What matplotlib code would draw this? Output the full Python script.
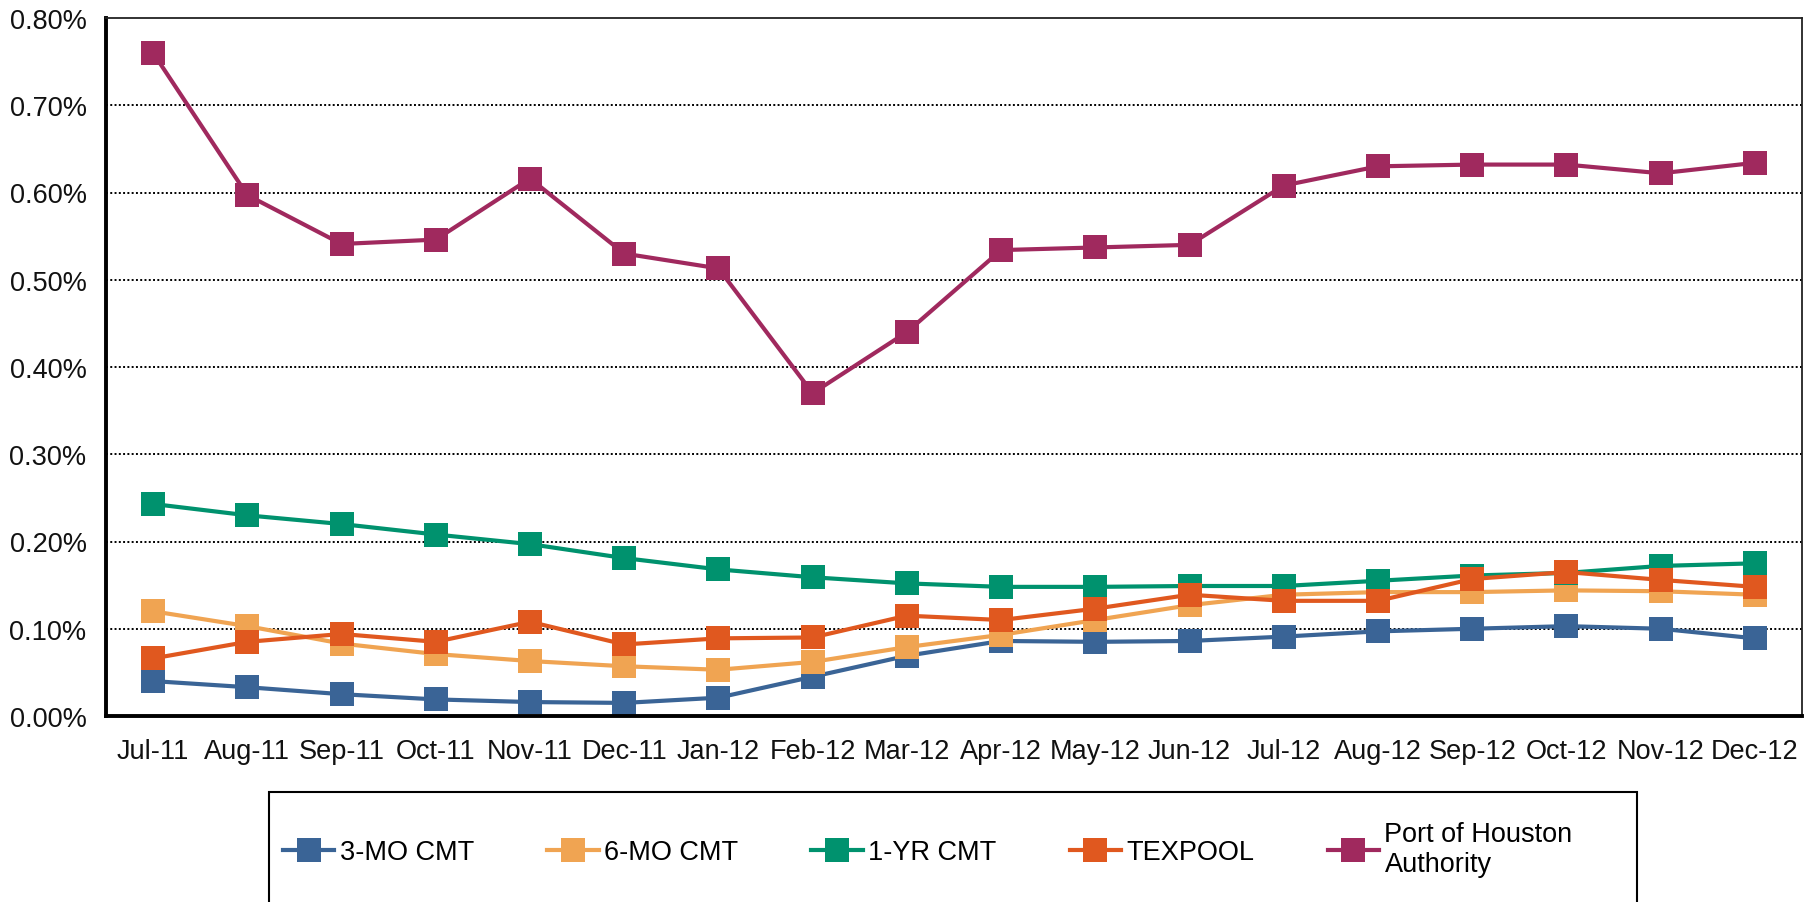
import numpy as np
import matplotlib
matplotlib.use("Agg")
import matplotlib.pyplot as plt
from matplotlib.patches import Rectangle
from matplotlib.ticker import FuncFormatter, MultipleLocator

plt.rcParams['font.family'] = ['Liberation Sans', 'DejaVu Sans']

# months on the x axis
months = ['Jul-11', 'Aug-11', 'Sep-11', 'Oct-11', 'Nov-11', 'Dec-11',
          'Jan-12', 'Feb-12', 'Mar-12', 'Apr-12', 'May-12', 'Jun-12',
          'Jul-12', 'Aug-12', 'Sep-12', 'Oct-12', 'Nov-12', 'Dec-12']

# yields in percent
cmt_3mo = [0.040, 0.033, 0.025, 0.019, 0.016, 0.015, 0.021, 0.045, 0.069,
           0.086, 0.085, 0.086, 0.091, 0.097, 0.100, 0.103, 0.100, 0.089]
cmt_6mo = [0.120, 0.103, 0.083, 0.071, 0.063, 0.057, 0.053, 0.062, 0.079,
           0.093, 0.110, 0.127, 0.139, 0.142, 0.142, 0.144, 0.143, 0.139]
cmt_1yr = [0.243, 0.230, 0.220, 0.208, 0.197, 0.181, 0.168, 0.159, 0.152,
           0.148, 0.148, 0.149, 0.149, 0.155, 0.161, 0.164, 0.172, 0.175]
texpool = [0.066, 0.085, 0.094, 0.085, 0.108, 0.082, 0.089, 0.090, 0.115,
           0.110, 0.123, 0.139, 0.132, 0.132, 0.157, 0.165, 0.156, 0.148]
port = [0.760, 0.597, 0.541, 0.546, 0.616, 0.530, 0.513, 0.370, 0.440,
        0.534, 0.537, 0.540, 0.608, 0.630, 0.632, 0.632, 0.622, 0.634]

series_names = ['3-MO CMT', '6-MO CMT', '1-YR CMT', 'TEXPOOL',
                'Port of Houston\nAuthority']
series_colors = ['#3A6496', '#F0A452', '#00926E', '#E0581F', '#A0295E']
series_values = [cmt_3mo, cmt_6mo, cmt_1yr, texpool, port]

W, H = 1813, 903
fig = plt.figure(figsize=(W / 100, H / 100), dpi=100)
ax = fig.add_axes([106 / W, (H - 717) / H, (1802 - 106) / W, (717 - 19) / H])

x = np.arange(len(months))
for name, col, vals in zip(series_names, series_colors, series_values):
    ax.plot(x, vals, color=col, lw=3.0, marker='s', ms=17.5,
            markeredgewidth=0, label=name)

ax.set_xlim(-0.5, len(months) - 0.5)
ax.set_ylim(0, 0.8)
ax.set_xticks(x)
ax.set_xticklabels(months)
ax.yaxis.set_major_locator(MultipleLocator(0.1))
ax.yaxis.set_major_formatter(FuncFormatter(lambda v, p: '%.2f%%' % v))
ax.tick_params(length=0, labelsize=19.5, colors='#111111')
ax.tick_params(axis='y', pad=14)
ax.tick_params(axis='x', pad=16)

# dotted grid lines
for g in np.arange(0.1, 0.75, 0.1):
    ax.axhline(g, color='black', lw=1.4, ls=(0, (1, 1.2)), zorder=0)

for s in ['left', 'bottom']:
    ax.spines[s].set_linewidth(2.8)
for s in ['top', 'right']:
    ax.spines[s].set_linewidth(1.3)
    ax.spines[s].set_color('#222222')

# legend box (bottom is cut off by figure edge)
fig.add_artist(Rectangle((269 / W, -0.1), (1637 - 269) / W, (H - 793) / H + 0.1,
                         transform=fig.transFigure, fill=False,
                         edgecolor='black', lw=1.5))
handles, labels = ax.get_legend_handles_labels()
fig.legend(handles, labels, loc='center left', ncol=5,
           bbox_to_anchor=(283 / W, (H - 850) / H), frameon=False,
           borderpad=0, borderaxespad=0, fontsize=19.5, handlelength=1.9,
           handletextpad=0.2, columnspacing=2.7, labelspacing=0.2)

fig.savefig('out.png', dpi=100)
